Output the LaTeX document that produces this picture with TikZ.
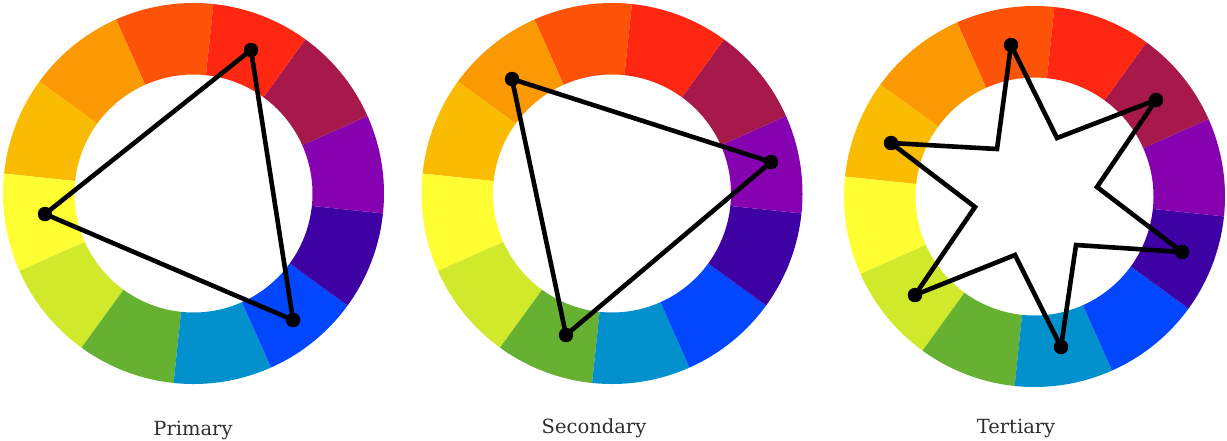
\documentclass[tikz,border=0pt]{standalone}
\usepackage{fontspec}
\setmainfont{DejaVu Serif}
\usetikzlibrary{calc}
\pgfdeclarelayer{dibujo}
\pgfsetlayers{dibujo, main}
\definecolor{rojonaranja}{HTML}{FD5308}
\definecolor{rojo}{HTML}{FE2712}
\definecolor{carmin}{HTML}{A7194B}
\definecolor{violeta}{HTML}{8601AF}
\definecolor{indigo}{HTML}{3D01A4}
\definecolor{azul}{HTML}{0247FE}
\definecolor{celeste}{HTML}{0391CE}
\definecolor{verde}{HTML}{66B032}
\definecolor{lima}{HTML}{D0EA2B}
\definecolor{amarillo}{HTML}{FEFE33}
\definecolor{ambar}{HTML}{FABC02}
\definecolor{naranja}{HTML}{FB9902}
\definecolor{texto}{HTML}{2E2E2E}
\tikzstyle{punto}=[circle,draw=black,fill=black,inner sep=0pt,minimum size=14pt]
\tikzstyle{trazo}=[line width=4.6pt,black,line join=miter]
\tikzstyle{etiqueta}=[anchor=base,text=texto,font=\fontsize{19.5}{23}\selectfont]

\begin{document}
\begin{tikzpicture}[x=1pt,y=1pt]
		\useasboundingbox (0,0) rectangle (1227,-440);
		% puntos
		\node[punto] (pa) at (251,-50) {};
		\node[punto] (pb) at (45,-214) {};
		\node[punto] (pc) at (293,-320) {};
		\node[punto] (sa) at (512,-79) {};
		\node[punto] (sb) at (771,-162) {};
		\node[punto] (sc) at (566,-335) {};
		\node[punto] (ta) at (1011,-45) {};
		\node[punto] (tb) at (1156,-100) {};
		\node[punto] (tc) at (1182,-252) {};
		\node[punto] (td) at (1061,-347) {};
		\node[punto] (te) at (915,-295) {};
		\node[punto] (tf) at (891,-143) {};
		\coordinate (tab) at (1057,-138);
		\coordinate (tbc) at (1097,-187);
		\coordinate (tcd) at (1076,-245);
		\coordinate (tde) at (1015,-255);
		\coordinate (tef) at (975,-207);
		\coordinate (tfa) at (997,-149);
		\node[etiqueta] (prim) at (193,-435) {Primary};
		\node[etiqueta] (sec) at (594,-433) {Secondary};
		\node[etiqueta] (ter) at (1016,-433) {Tertiary};
		\begin{pgfonlayer}{dibujo}
			\foreach \cx/\cy in {193.5/-193.5, 612/-193.5, 1034.5/-196.5}
				\foreach \c [count=\i] in {rojonaranja,naranja,ambar,amarillo,lima,verde,celeste,azul,indigo,violeta,carmin,rojo}
					\fill[\c] ($(\cx,\cy)+(54+30*\i:190.5)$) arc (54+30*\i:84+30*\i:190.5)
						-- ($(\cx,\cy)+(84+30*\i:119)$) arc (84+30*\i:54+30*\i:119) -- cycle;
			\draw[trazo] (pa.center)--(pb.center)--(pc.center)--cycle;
			\draw[trazo] (sa.center)--(sb.center)--(sc.center)--cycle;
			\draw[trazo] (ta.center)--(tab)--(tb.center)--(tbc)--(tc.center)--(tcd)--(td.center)--(tde)--(te.center)--(tef)--(tf.center)--(tfa)--cycle;
		\end{pgfonlayer}
	\end{tikzpicture}
\end{document}
